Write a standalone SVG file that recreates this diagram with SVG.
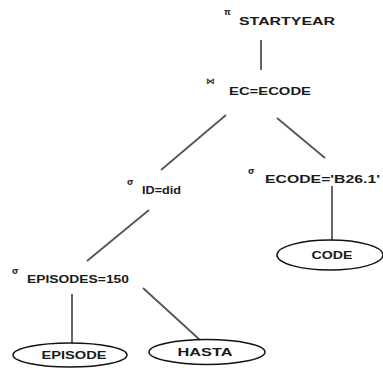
<svg xmlns="http://www.w3.org/2000/svg" width="383" height="370" viewBox="0 0 383 370">
  <style>
    .lbl { font-family: "Liberation Sans", Arial, sans-serif; font-weight: bold; font-size: 11.5px; fill: #1a1a1a; }
    .op { font-family: "DejaVu Sans", "Liberation Sans", sans-serif; font-weight: bold; font-size: 8.5px; fill: #333; }
    .edge { stroke: #555; stroke-width: 1.8; fill: none; }
    .rel { fill: #fff; stroke: #111; stroke-width: 1.5; }
  </style>
  <rect width="383" height="370" fill="#fff"/>

  <!-- tree edges -->
  <g id="connectors">
    <line class="edge" x1="261" y1="40" x2="261" y2="70"/>
    <line class="edge" x1="226" y1="115" x2="161" y2="170"/>
    <line class="edge" x1="277" y1="118" x2="325" y2="158"/>
    <line class="edge" x1="332" y1="186" x2="332" y2="240"/>
    <line class="edge" x1="149" y1="210" x2="87" y2="261"/>
    <line class="edge" x1="72" y1="294" x2="72" y2="343"/>
    <line class="edge" x1="143" y1="288" x2="200" y2="340"/>
  </g>

  <!-- projection -->
  <g id="project">
    <text class="op" x="224" y="15">π</text>
    <text class="lbl" x="239" y="25" textLength="96" lengthAdjust="spacingAndGlyphs">STARTYEAR</text>
  </g>

  <!-- join -->
  <g id="join">
    <text class="op" x="206" y="84">⋈</text>
    <text class="lbl" x="229" y="95" textLength="82" lengthAdjust="spacingAndGlyphs">EC=ECODE</text>
  </g>

  <!-- selections -->
  <g id="select-id">
    <text class="op" x="127" y="185">σ</text>
    <text class="lbl" x="142" y="194" textLength="39" lengthAdjust="spacingAndGlyphs">ID=did</text>
  </g>
  <g id="select-ecode">
    <text class="op" x="248" y="174">σ</text>
    <text class="lbl" x="265" y="183" textLength="115" lengthAdjust="spacingAndGlyphs">ECODE='B26.1'</text>
  </g>
  <g id="select-episodes">
    <text class="op" x="12" y="274">σ</text>
    <text class="lbl" x="27" y="283" textLength="102" lengthAdjust="spacingAndGlyphs">EPISODES=150</text>
  </g>

  <!-- base relations -->
  <g id="code">
    <ellipse class="rel" cx="330" cy="255" rx="53" ry="15"/>
    <text class="lbl" x="332" y="259" text-anchor="middle" textLength="41" lengthAdjust="spacingAndGlyphs">CODE</text>
  </g>
  <g id="episode">
    <ellipse class="rel" cx="70" cy="355" rx="57" ry="12"/>
    <text class="lbl" x="74" y="359" text-anchor="middle" textLength="65" lengthAdjust="spacingAndGlyphs">EPISODE</text>
  </g>
  <g id="hasta">
    <ellipse class="rel" cx="207" cy="352" rx="58" ry="12.5"/>
    <text class="lbl" x="205" y="356" text-anchor="middle" textLength="55" lengthAdjust="spacingAndGlyphs">HASTA</text>
  </g>
</svg>
